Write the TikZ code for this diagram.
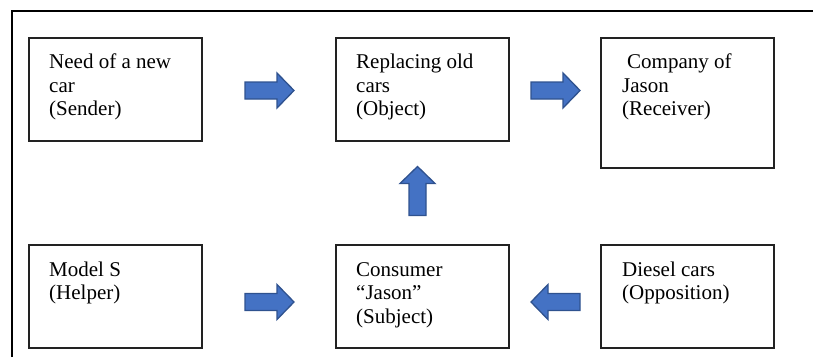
\documentclass[tikz,border=0pt]{standalone}
\usepackage{fontspec}
\setmainfont{Liberation Serif}
\newfontfamily\timesface{Liberation Serif}
\newcommand\boxlines[1]{\begin{tabular}[t]{@{}l@{}}#1\end{tabular}}
\definecolor{arrowfill}{HTML}{4472C4}
\definecolor{arrowedge}{HTML}{2F528F}
\definecolor{boxedge}{HTML}{222222}
\begin{document}
\begin{tikzpicture}[x=1pt,y=1pt,
  frame/.style={line width=2.5pt,black,line join=miter},
  actant/.style={draw=boxedge,line width=1.3pt,rectangle,minimum width=173pt,inner sep=0pt,outer sep=0pt},
  caption/.style={anchor=base west,inner sep=0pt,font=\timesface\fontsize{21}{23.5}\selectfont},
  arrowbody/.style={fill=arrowfill,draw=arrowedge,line width=1.3pt,line join=miter},
  blockarrow/.pic={\path[arrowbody] (-24.5,-8.5) -- (7.5,-8.5) -- (7.5,-17.5) -- (24.5,0)
      -- (7.5,17.5) -- (7.5,8.5) -- (-24.5,8.5) -- cycle;}]
\useasboundingbox (0,0) rectangle (813,357);

% open outer frame: left and top edges only
\coordinate (fb) at (12,0);
\coordinate (fc) at (12,346);
\coordinate (fr) at (813,346);
\draw[frame] (fb) -- (fc) -- (fr);

% actant boxes
\node[actant,minimum height=103pt] (sender)   at (115.5,267.5) {};
\node[actant,minimum height=103pt] (object)   at (422.5,267.5) {};
\node[actant,minimum height=130pt] (receiver) at (687.5,254) {};
\node[actant,minimum height=103pt] (helper)   at (115.5,60.5) {};
\node[actant,minimum height=103pt] (subject)  at (422.5,60.5) {};
\node[actant,minimum height=103pt] (opponent) at (687.5,60.5) {};

% box texts
\node[caption] (tsender) at ([shift={(20,-30.5)}]sender.north west)
  {\boxlines{Need of a new\\car\\(Sender)}};
\node[caption] (tobject) at ([shift={(20,-30.5)}]object.north west)
  {\boxlines{Replacing old\\cars\\(Object)}};
\node[caption] (treceiver) at ([shift={(21,-30.5)}]receiver.north west)
  {\boxlines{\hspace*{5pt}Company of\\Jason\\(Receiver)}};
\node[caption] (thelper) at ([shift={(20,-31)}]helper.north west)
  {\boxlines{Model S\\(Helper)}};
\node[caption] (tsubject) at ([shift={(20,-31)}]subject.north west)
  {\boxlines{Consumer\\“Jason”\\(Subject)}};
\node[caption] (topponent) at ([shift={(21,-31)}]opponent.north west)
  {\boxlines{Diesel cars\\(Opposition)}};

% block arrows between the boxes
\pic at (269.5,266.5) {blockarrow};
\pic at (555.5,266.5) {blockarrow};
\pic at (269.5,55) {blockarrow};
\pic[rotate=180] at (555.5,55) {blockarrow};
\pic[rotate=90] at (417.5,166) {blockarrow};
\end{tikzpicture}
\end{document}
